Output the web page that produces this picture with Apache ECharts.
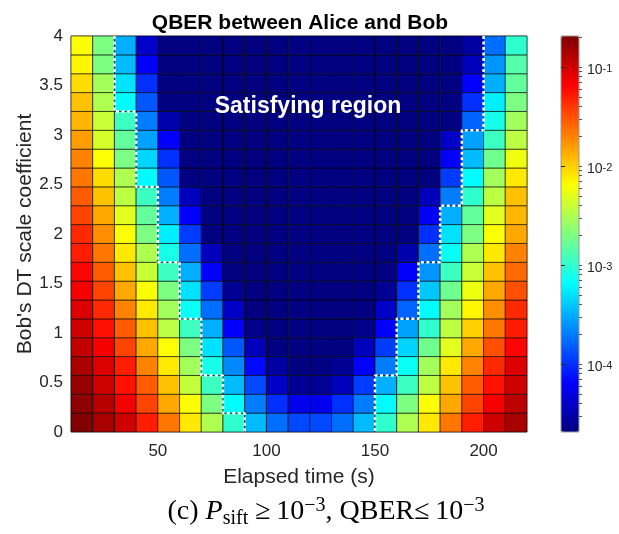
<!DOCTYPE html>
<html><head><meta charset="utf-8">
<script src="https://cdn.jsdelivr.net/npm/echarts@6/dist/echarts.min.js"></script>
<style>html,body{margin:0;padding:0;background:#fff}#c{width:619px;height:534px}</style>
</head><body><div id="c"></div>
<script>
// Elapsed time cell edges (s)
const timeEdges = [10,20,30,40,50,60,70,80,90,100,110,120,130,140,150,160,170,180,190,200,210,220];
// Bob's DT scale coefficient cell edges
const scaleEdges = [0,0.1905,0.3810,0.5714,0.7619,0.9524,1.1429,1.3333,1.5238,1.7143,1.9048,2.0952,2.2857,2.4762,2.6667,2.8571,3.0476,3.2381,3.4286,3.6190,3.8095,4];
// log10(QBER), one array per scale row (bottom row first), 21 time columns each
const qberRow0  = [-0.70,-0.85,-1.00,-1.30,-1.65,-2.10,-2.50,-3.00,-3.45,-3.75,-3.90,-3.90,-3.75,-3.45,-3.00,-2.50,-2.10,-1.65,-1.30,-1.00,-0.85];
const qberRow1  = [-0.75,-0.90,-1.15,-1.45,-1.85,-2.20,-2.70,-3.20,-3.70,-4.00,-4.25,-4.25,-4.00,-3.70,-3.20,-2.70,-2.20,-1.85,-1.45,-1.15,-0.92];
const qberRow2  = [-0.78,-1.00,-1.25,-1.55,-1.95,-2.42,-2.95,-3.45,-3.90,-4.40,-4.60,-4.60,-4.45,-3.95,-3.50,-2.95,-2.45,-1.95,-1.55,-1.25,-1.00];
const qberRow3  = [-0.85,-1.05,-1.30,-1.70,-2.10,-2.55,-3.10,-3.65,-4.15,-4.55,-4.68,-4.68,-4.60,-4.20,-3.70,-3.15,-2.55,-2.10,-1.70,-1.35,-1.05];
const qberRow4  = [-0.95,-1.15,-1.45,-1.85,-2.20,-2.70,-3.30,-3.85,-4.45,-4.68,-4.68,-4.68,-4.68,-4.45,-3.95,-3.35,-2.75,-2.30,-1.85,-1.50,-1.20];
const qberRow5  = [-1.00,-1.25,-1.55,-1.95,-2.45,-2.95,-3.50,-4.20,-4.65,-4.68,-4.68,-4.68,-4.68,-4.65,-4.20,-3.55,-3.00,-2.45,-2.00,-1.65,-1.30];
const qberRow6  = [-1.05,-1.35,-1.70,-2.10,-2.55,-3.15,-3.75,-4.40,-4.68,-4.68,-4.68,-4.68,-4.68,-4.68,-4.40,-3.80,-3.20,-2.55,-2.15,-1.75,-1.35];
const qberRow7  = [-1.15,-1.45,-1.85,-2.20,-2.70,-3.30,-3.95,-4.60,-4.68,-4.68,-4.68,-4.68,-4.68,-4.68,-4.60,-4.00,-3.40,-2.75,-2.25,-1.85,-1.50];
const qberRow8  = [-1.20,-1.55,-1.95,-2.40,-2.95,-3.50,-4.20,-4.68,-4.68,-4.68,-4.68,-4.68,-4.68,-4.68,-4.68,-4.20,-3.60,-2.95,-2.40,-1.95,-1.60];
const qberRow9  = [-1.30,-1.65,-2.10,-2.50,-3.10,-3.75,-4.45,-4.68,-4.68,-4.68,-4.68,-4.68,-4.68,-4.68,-4.68,-4.50,-3.75,-3.15,-2.50,-2.10,-1.70];
const qberRow10 = [-1.35,-1.75,-2.20,-2.70,-3.25,-3.95,-4.68,-4.68,-4.68,-4.68,-4.68,-4.68,-4.68,-4.68,-4.68,-4.68,-4.00,-3.30,-2.70,-2.20,-1.85];
const qberRow11 = [-1.45,-1.85,-2.30,-2.80,-3.50,-4.20,-4.68,-4.68,-4.68,-4.68,-4.68,-4.68,-4.68,-4.68,-4.68,-4.68,-4.20,-3.50,-2.80,-2.30,-1.90];
const qberRow12 = [-1.55,-1.95,-2.45,-2.95,-3.70,-4.45,-4.68,-4.68,-4.68,-4.68,-4.68,-4.68,-4.68,-4.68,-4.68,-4.68,-4.45,-3.70,-3.00,-2.45,-1.95];
const qberRow13 = [-1.65,-2.05,-2.50,-3.20,-3.85,-4.68,-4.68,-4.68,-4.68,-4.68,-4.68,-4.68,-4.68,-4.68,-4.68,-4.68,-4.68,-3.95,-3.20,-2.55,-2.10];
const qberRow14 = [-1.70,-2.20,-2.70,-3.35,-4.00,-4.68,-4.68,-4.68,-4.68,-4.68,-4.68,-4.68,-4.68,-4.68,-4.68,-4.68,-4.68,-4.20,-3.45,-2.75,-2.25];
const qberRow15 = [-1.80,-2.35,-2.80,-3.55,-4.20,-4.68,-4.68,-4.68,-4.68,-4.68,-4.68,-4.68,-4.68,-4.68,-4.68,-4.68,-4.68,-4.40,-3.55,-2.95,-2.45];
const qberRow16 = [-1.90,-2.40,-2.95,-3.70,-4.50,-4.68,-4.68,-4.68,-4.68,-4.68,-4.68,-4.68,-4.68,-4.68,-4.68,-4.68,-4.68,-4.68,-3.80,-3.10,-2.55];
const qberRow17 = [-1.95,-2.50,-3.20,-3.85,-4.68,-4.68,-4.68,-4.68,-4.68,-4.68,-4.68,-4.68,-4.68,-4.68,-4.68,-4.68,-4.68,-4.68,-4.00,-3.25,-2.70];
const qberRow18 = [-2.05,-2.55,-3.30,-4.00,-4.68,-4.68,-4.68,-4.68,-4.68,-4.68,-4.68,-4.68,-4.68,-4.68,-4.68,-4.68,-4.68,-4.68,-4.20,-3.50,-2.80];
const qberRow19 = [-2.15,-2.70,-3.45,-4.20,-4.68,-4.68,-4.68,-4.68,-4.68,-4.68,-4.68,-4.68,-4.68,-4.68,-4.68,-4.68,-4.68,-4.68,-4.45,-3.60,-2.85];
const qberRow20 = [-2.20,-2.70,-3.50,-4.40,-4.68,-4.68,-4.68,-4.68,-4.68,-4.68,-4.68,-4.68,-4.68,-4.68,-4.68,-4.68,-4.68,-4.68,-4.55,-3.75,-3.00];
const qberRows = [qberRow0,qberRow1,qberRow2,qberRow3,qberRow4,qberRow5,qberRow6,qberRow7,qberRow8,qberRow9,qberRow10,
  qberRow11,qberRow12,qberRow13,qberRow14,qberRow15,qberRow16,qberRow17,qberRow18,qberRow19,qberRow20];
// Satisfying-region boundary (time) per scale row, bottom row first
const leftBoundary  = [90,80,80,70,70,70,60,60,60,50,50,50,50,40,40,40,40,30,30,30,30];
const rightBoundary = [150,150,150,160,160,160,170,170,170,180,180,180,190,190,190,190,200,200,200,200,200];
// ticks
const xTickValues = [50,100,150,200];
const colorbarDecades = [-4,-3,-2,-1];
const colorMinLog = -4.687, colorMaxLog = -0.687;

const jet = ['#00007F','#0000FF','#007FFF','#00FFFF','#7FFF7F','#FFFF00','#FF7F00','#FF0000','#7F0000'];

const cells = [];
qberRows.forEach((row, j) => row.forEach((v, i) => {
  cells.push([timeEdges[i], scaleEdges[j], timeEdges[i + 1], scaleEdges[j + 1], v]);
}));
function boundaryPath(edges) {
  const pts = [];
  for (let j = edges.length - 1; j >= 0; j--) {
    pts.push([edges[j], scaleEdges[j + 1]]);
    pts.push([edges[j], scaleEdges[j]]);
  }
  return pts;
}
const minorTicks = [];
for (let k = -5; k <= 0; k++) for (let m = 1; m <= 9; m++) {
  const t = Math.log10(m) + k;
  if (t > colorMinLog && t < colorMaxLog) minorTicks.push(t);
}

const tickColor = '#262626';
const chart = echarts.init(document.getElementById('c'));
chart.setOption({
  animation: false,
  textStyle: { fontFamily: 'Liberation Sans' },
  title: {
    text: 'QBER between Alice and Bob', left: 295, top: 8, textAlign: 'center',
    textStyle: { fontFamily: 'Liberation Sans', fontWeight: 'bold', fontSize: 21, color: '#000' }
  },
  grid: [
    { left: 71, top: 36, width: 456, height: 396, show: true, borderColor: '#8f8f8f', borderWidth: 1, outerBoundsMode: 'none' },
    { left: 561, top: 36, width: 18, height: 396, show: true, borderColor: '#9a9a9a', borderWidth: 1, z: 10,
      backgroundColor: 'transparent', outerBoundsMode: 'none' }
  ],
  xAxis: [
    { type: 'value', gridIndex: 0, min: 10, max: 220,
      name: 'Elapsed time (s)', nameLocation: 'middle', nameGap: 35, nameMoveOverlap: false,
      nameTextStyle: { fontSize: 21, color: tickColor },
      axisLine: { show: false }, axisTick: { show: false }, splitLine: { show: false },
      axisLabel: { customValues: xTickValues, margin: 11, fontSize: 17, color: tickColor } },
    { type: 'value', gridIndex: 1, min: 0, max: 1, show: false }
  ],
  yAxis: [
    { type: 'value', gridIndex: 0, min: 0, max: 4, interval: 0.5,
      name: "Bob's DT scale coefficient", nameLocation: 'middle', nameGap: 35, nameMoveOverlap: false,
      nameTextStyle: { fontSize: 21, color: tickColor },
      axisLine: { show: false }, axisTick: { show: false }, splitLine: { show: false },
      axisLabel: { margin: 8, fontSize: 17, color: tickColor } },
    { type: 'value', gridIndex: 1, position: 'right', offset: 0, min: colorMinLog, max: colorMaxLog, z: 12,
      axisLine: { show: false }, splitLine: { show: false },
      axisTick: { show: true, inside: true, length: -4, customValues: colorbarDecades, lineStyle: { color: tickColor } },
      axisLabel: { customValues: colorbarDecades, margin: 8, color: tickColor, padding: [6, 0, 0, 0],
        formatter: v => '{b|10}{s|' + v + '}',
        rich: { b: { fontSize: 14, lineHeight: 14, verticalAlign: 'bottom', color: tickColor },
                s: { fontSize: 11, lineHeight: 11, verticalAlign: 'top', padding: [0, 0, 8, 0], color: tickColor } } } },
    { type: 'value', gridIndex: 1, position: 'right', offset: 0, min: colorMinLog, max: colorMaxLog, z: 12,
      axisLine: { show: false }, splitLine: { show: false }, axisLabel: { show: false },
      axisTick: { show: true, inside: true, length: -3, customValues: minorTicks, lineStyle: { color: '#555' } } }
  ],
  visualMap: {
    type: 'continuous', min: colorMinLog, max: colorMaxLog, dimension: 4, seriesIndex: 0,
    calculable: false, hoverLink: false, orient: 'vertical', left: 561, top: 36, padding: 0,
    itemWidth: 18, itemHeight: 396, text: null, showLabel: false,
    inRange: { color: jet }
  },
  series: [
    { type: 'custom', xAxisIndex: 0, yAxisIndex: 0, data: cells, encode: { x: [0, 2], y: [1, 3] },
      renderItem: function (params, api) {
        const p0 = api.coord([api.value(0), api.value(1)]);
        const p1 = api.coord([api.value(2), api.value(3)]);
        return { type: 'rect',
          shape: { x: p0[0], y: p1[1], width: p1[0] - p0[0], height: p0[1] - p1[1] },
          style: { fill: api.visual('color'), stroke: 'rgba(0,0,0,0.75)', lineWidth: 0.8 } };
      } },
    { type: 'line', xAxisIndex: 0, yAxisIndex: 0, data: boundaryPath(leftBoundary), symbol: 'none', z: 5, silent: true,
      lineStyle: { color: '#fff', width: 2.5, type: [3, 2.5] } },
    { type: 'line', xAxisIndex: 0, yAxisIndex: 0, data: boundaryPath(rightBoundary), symbol: 'none', z: 5, silent: true,
      lineStyle: { color: '#fff', width: 2.5, type: [3, 2.5] } }
  ],
  graphic: [
    { type: 'text', z: 20, x: 308, y: 107,
      style: { text: 'Satisfying region', x: 0, y: 0, align: 'center', verticalAlign: 'middle',
        fill: '#fff', font: 'bold 23px "Liberation Sans"' } },
    { type: 'text', z: 20, x: 326, y: 512,
      style: { text: '(c) {i|P}{sub|sift} ≥\u200910{sup|−3}, QBER≤\u200910{sup|−3}', align: 'center', verticalAlign: 'middle',
        fill: '#000', fontFamily: 'Liberation Serif', fontSize: 28,
        rich: { i: { fontStyle: 'italic', fontFamily: 'Liberation Serif', fontSize: 28, lineHeight: 33 },
                sub: { fontFamily: 'Liberation Serif', fontSize: 20, lineHeight: 20, verticalAlign: 'bottom' },
                sup: { fontFamily: 'Liberation Serif', fontSize: 20, lineHeight: 20, verticalAlign: 'top' } } } }
  ]
});
</script></body></html>
